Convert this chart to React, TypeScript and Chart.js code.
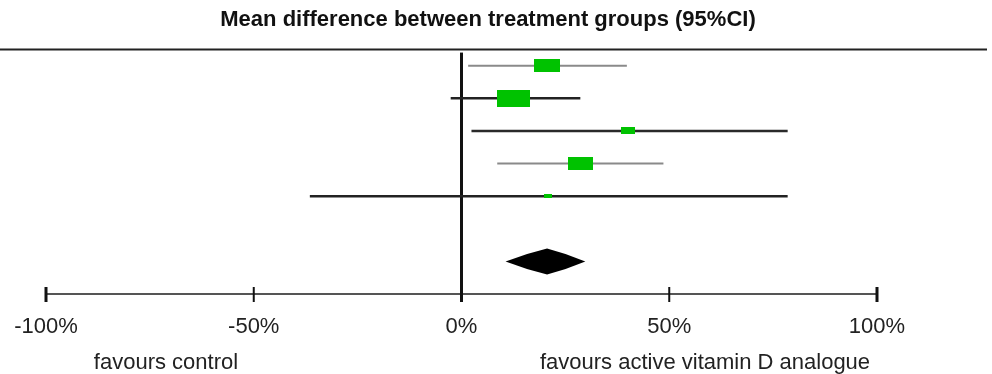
import React, { useEffect, useRef } from "react";
import { Chart, registerables } from "chart.js";

Chart.register(...registerables);

// ---- data ----
const rowIndex = [1, 2, 3, 4, 5];
const meanDiff = [20.5, 12.5, 40.0, 28.7, 20.7];
const ciLow = [1.6, -2.6, 2.4, 8.6, -36.5];
const ciHigh = [39.8, 28.6, 78.5, 48.6, 78.5];
const weightPct = [25.6, 41.1, 7.0, 23.9, 2.4];
const pooledRow = [7];
const pooledMean = [20.6];
const pooledLow = [10.6];
const pooledHigh = [29.8];
const tickValues = [-100, -50, 0, 50, 100];
const tickLabels = ["-100%", "-50%", "0%", "50%", "100%"];
const titleText = "Mean difference between treatment groups (95%CI)";
const leftLabel = "favours control";
const rightLabel = "favours active vitamin D analogue";

// ---- styles ----
const GREEN = "#00c200";
const lineColors = ["#8a8a8a", "#222222", "#2a2a2a", "#8a8a8a", "#222222"];
const lineWidths = [2, 2.5, 2.5, 2, 2.5];
const FONT = "'Liberation Sans', Arial, sans-serif";

function makeBox(weight: number): HTMLCanvasElement {
  const h = Math.sqrt(weight * 6.78);
  const w = h * 2;
  const c = document.createElement("canvas");
  c.width = Math.max(2, Math.round(w));
  c.height = Math.max(2, Math.round(h));
  const ctx = c.getContext("2d")!;
  ctx.fillStyle = GREEN;
  ctx.fillRect(0, 0, c.width, c.height);
  return c;
}

const decorPlugin = {
  id: "forestDecor",
  beforeDatasetsDraw(chart: any) {
    const { ctx, scales } = chart;
    const x = scales.x;
    const y = scales.y;
    const px = x.getPixelForValue(0);
    ctx.save();
    ctx.strokeStyle = "#111";
    ctx.lineWidth = 3;
    ctx.beginPath();
    ctx.moveTo(px, y.getPixelForValue(0.6));
    ctx.lineTo(px, chart.chartArea.bottom + 8);
    ctx.stroke();
    ctx.restore();
  },
  afterDatasetsDraw(chart: any) {
    const { ctx, scales } = chart;
    const x = scales.x;
    const y = scales.y;
    ctx.save();
    ctx.fillStyle = "#000";
    for (let i = 0; i < pooledMean.length; i++) {
      const cy = y.getPixelForValue(pooledRow[i]);
      const xl = x.getPixelForValue(pooledLow[i]);
      const xm = x.getPixelForValue(pooledMean[i]);
      const xr = x.getPixelForValue(pooledHigh[i]);
      const hh = 13;
      ctx.beginPath();
      ctx.moveTo(xl, cy);
      ctx.quadraticCurveTo((xl + xm) / 2, cy - hh * 0.62, xm, cy - hh);
      ctx.quadraticCurveTo((xm + xr) / 2, cy - hh * 0.62, xr, cy);
      ctx.quadraticCurveTo((xm + xr) / 2, cy + hh * 0.62, xm, cy + hh);
      ctx.quadraticCurveTo((xl + xm) / 2, cy + hh * 0.62, xl, cy);
      ctx.closePath();
      ctx.fill();
    }
    ctx.restore();
  },
  afterDraw(chart: any) {
    const { ctx, scales, chartArea } = chart;
    const x = scales.x;
    const axisY = chartArea.bottom;
    ctx.save();
    // tick marks
    ctx.strokeStyle = "#111";
    x.ticks.forEach((t: any) => {
      if (t.value === 0) return;
      const px = x.getPixelForValue(t.value);
      ctx.lineWidth = Math.abs(t.value) === 100 ? 3 : 2;
      ctx.beginPath();
      ctx.moveTo(px, axisY - 7);
      ctx.lineTo(px, axisY + 8);
      ctx.stroke();
    });
    // top rule
    ctx.strokeStyle = "#222";
    ctx.lineWidth = 2;
    ctx.beginPath();
    ctx.moveTo(0, 49.5);
    ctx.lineTo(987, 49.5);
    ctx.stroke();
    // title
    ctx.fillStyle = "#111";
    ctx.textAlign = "center";
    ctx.textBaseline = "middle";
    ctx.font = `bold 22px ${FONT}`;
    ctx.fillText(titleText, 488, 20);
    // favour labels
    ctx.fillStyle = "#222";
    ctx.font = `22px ${FONT}`;
    ctx.fillText(leftLabel, 166, 363);
    ctx.fillText(rightLabel, 705, 363);
    ctx.restore();
  },
};

export default function App() {
  const ref = useRef<HTMLCanvasElement | null>(null);

  useEffect(() => {
    document.body.style.margin = "0";
    if (!ref.current) return;
    const lineSets = rowIndex.map((r, i) => ({
      type: "scatter" as const,
      data: [
        { x: ciLow[i], y: r },
        { x: ciHigh[i], y: r },
      ],
      showLine: true,
      borderColor: lineColors[i],
      borderWidth: lineWidths[i],
      pointRadius: 0,
      borderCapStyle: "butt" as const,
      order: 1,
    }));
    const boxSet = {
      type: "scatter" as const,
      data: rowIndex.map((r, i) => ({ x: meanDiff[i], y: r })),
      showLine: false,
      pointStyle: weightPct.map((w) => makeBox(w)),
      pointRadius: 5,
      backgroundColor: GREEN,
      borderWidth: 0,
      order: 0,
    };
    const chart = new Chart(ref.current, {
      type: "scatter",
      data: { datasets: [...lineSets, boxSet] as any },
      options: {
        animation: false,
        responsive: false,
        events: [],
        layout: { padding: { top: 33, left: 46, right: 115, bottom: 0 } },
        plugins: {
          legend: { display: false },
          tooltip: { enabled: false },
          title: { display: false },
        },
        scales: {
          x: {
            type: "linear",
            position: "bottom",
            min: -100,
            max: 100,
            afterBuildTicks: (scale: any) => {
              scale.ticks = tickValues.map((v) => ({ value: v }));
            },
            afterFit: (scale: any) => {
              scale.height = 80;
              scale.paddingLeft = 0;
              scale.paddingRight = 0;
            },
            grid: { display: false, drawTicks: false },
            border: { display: true, color: "#555", width: 2 },
            ticks: {
              padding: 20,
              color: "#222",
              font: { family: FONT, size: 22 },
              callback: (_v: any, i: number) => tickLabels[i],
              maxRotation: 0,
              autoSkip: false,
            },
          },
          y: {
            type: "linear",
            min: 0,
            max: 8,
            reverse: true,
            display: false,
          },
        },
      },
      plugins: [decorPlugin],
    });
    return () => chart.destroy();
  }, []);

  return (
    <div style={{ width: 992, height: 374 }}>
      <canvas ref={ref} width={992} height={374} />
    </div>
  );
}
